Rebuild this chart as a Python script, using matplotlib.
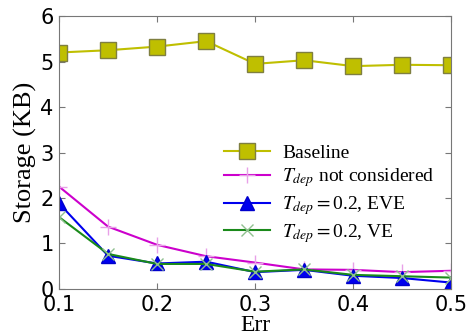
import matplotlib
matplotlib.use("Agg")
import matplotlib.pyplot as plt

err = [0.1, 0.15, 0.2, 0.25, 0.3, 0.35, 0.4, 0.45, 0.5]
baseline = [5.20, 5.25, 5.33, 5.45, 4.95, 5.03, 4.90, 4.93, 4.92]
not_considered = [2.25, 1.37, 0.97, 0.72, 0.58, 0.43, 0.42, 0.37, 0.40]
eve = [1.88, 0.73, 0.56, 0.60, 0.37, 0.42, 0.29, 0.24, 0.14]
ve = [1.58, 0.77, 0.55, 0.55, 0.38, 0.43, 0.31, 0.28, 0.25]

plt.rcParams["mathtext.fontset"] = "stix"

fig = plt.figure(figsize=(4.69, 3.36), dpi=100)
ax = fig.add_axes([0.126, 0.140, 0.836, 0.812])

ax.plot(err, baseline, color="#bfbf00", marker="s", markersize=11,
        markeredgecolor="#7f7f40", lw=1.5, label="Baseline")
ax.plot(err, not_considered, color="#cc00cc", marker="+", markersize=11,
        markeredgecolor="#e8a0e8", lw=1.5, label=r"$T_{dep}$ not considered")
ax.plot(err, eve, color="#0000ee", marker="^", markersize=10,
        markeredgecolor="#0000cc", lw=1.5, label=r"$T_{dep}=$0.2, EVE")
ax.plot(err, ve, color="#1a8a1a", marker="x", markersize=9,
        markeredgecolor="#90c090", lw=1.5, label=r"$T_{dep}=$0.2, VE")

ax.set_xlim(0.1, 0.5)
ax.set_ylim(0, 6)
ax.set_xticks([0.1, 0.2, 0.3, 0.4, 0.5])
ax.set_yticks([0, 1, 2, 3, 4, 5, 6])
ax.set_xticklabels(["0.1", "0.2", "0.3", "0.4", "0.5"])
ax.tick_params(direction="in", top=True, right=True, labelsize=15,
               length=4, color="#777777", pad=4)
for s in ax.spines.values():
    s.set_color("#777777")

ax.set_xlabel("Err", family="Liberation Serif", fontsize=17, labelpad=0)
ax.set_ylabel("Storage (KB)", family="Liberation Serif", fontsize=19, labelpad=2)

leg = ax.legend(loc="upper left", bbox_to_anchor=(0.40, 0.56), frameon=False,
                prop={"family": "Liberation Serif", "size": 14},
                handlelength=2.4, labelspacing=0.25, borderaxespad=0.0,
                handletextpad=0.6)

fig.savefig("out.png", dpi=100)
